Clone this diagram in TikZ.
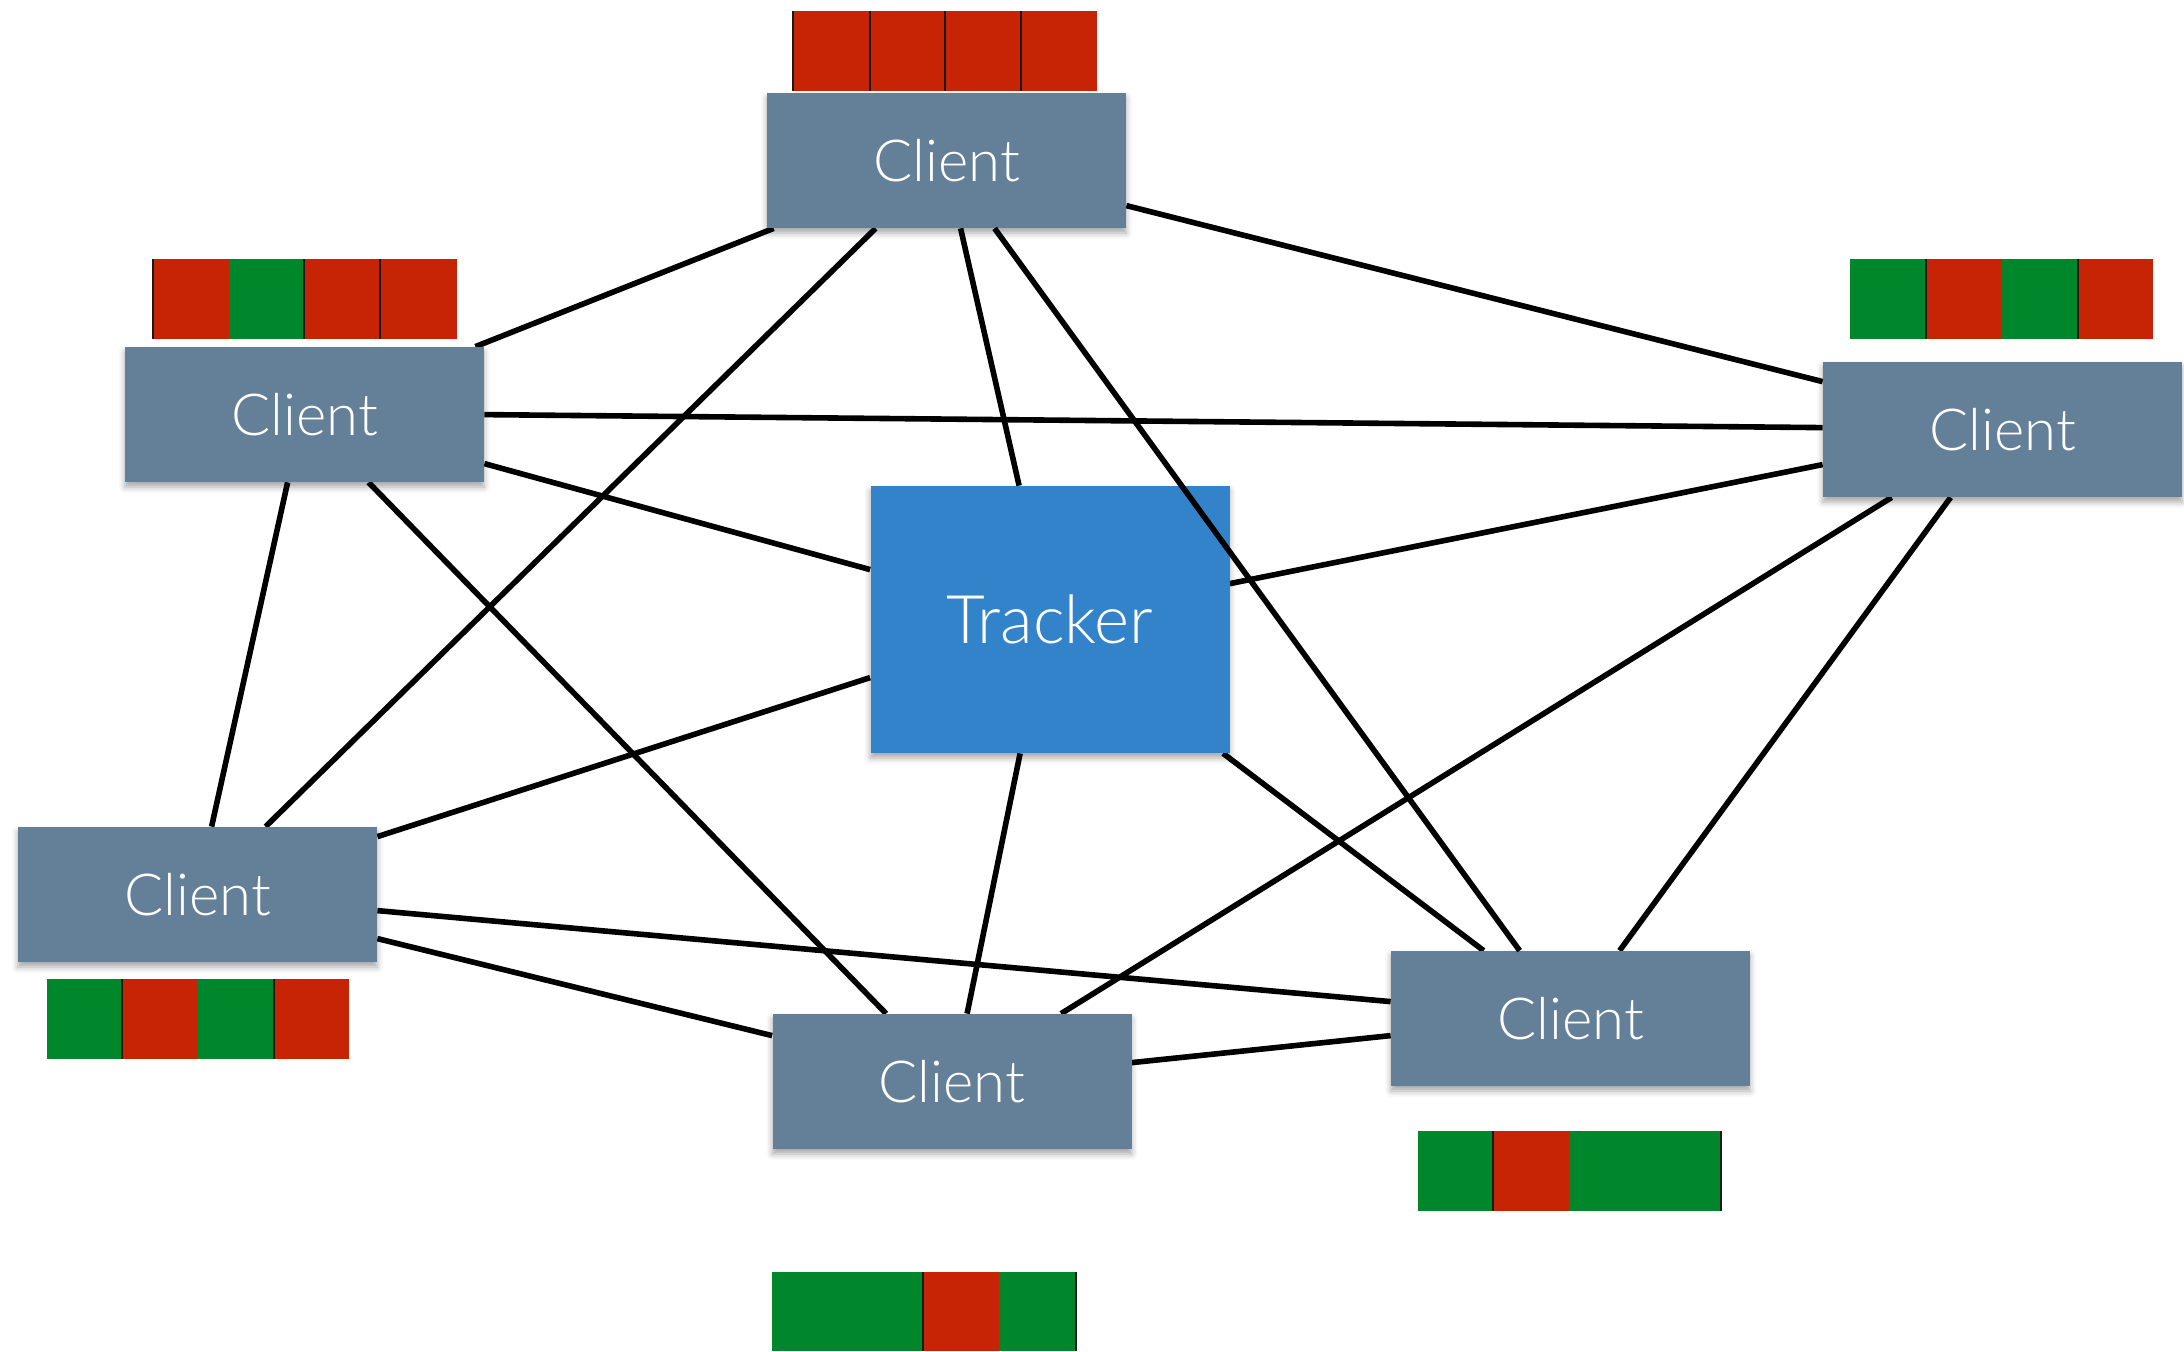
\documentclass[tikz,border=0pt]{standalone}
\usepackage{fontspec}
\setmainfont{Lato}[UprightFont={* Light}]
\usetikzlibrary{calc,backgrounds,shadows.blur}

\definecolor{clientblue}{RGB}{100,128,153}
\definecolor{trackerblue}{RGB}{51,131,203}
\definecolor{piecered}{RGB}{199,36,6}
\definecolor{piecegreen}{RGB}{0,135,43}

\tikzset{
  box/.style={rectangle, inner sep=0pt, text=white,
    minimum width=179.5pt, minimum height=67.5pt,
    blur shadow={shadow xshift=0pt, shadow yshift=-2.5pt,
      shadow blur radius=3pt, shadow opacity=35},
    font=\fontsize{29}{34}\selectfont},
  client/.style={box, fill=clientblue},
  tracker/.style={box, fill=trackerblue, minimum height=133.5pt,
    font=\fontsize{33.5}{40}\selectfont},
  link/.style={line width=2.8pt, black},
  redcell/.style={fill=piecered},
  greencell/.style={fill=piecegreen},
  divider/.style={line width=1.3pt, black!90},
}

\begin{document}
\begin{tikzpicture}[x=0.5pt, y=-0.5pt]
  \useasboundingbox (0,0) rectangle (2184,1351);

  % peers and tracker
  \node[client]  (T)  at (946.5,160.5)  {Client};
  \node[client]  (L)  at (304.5,414.5)  {Client};
  \node[client]  (R)  at (2002.5,429.5) {Client};
  \node[client]  (BL) at (197.5,894.5)  {Client};
  \node[client]  (BM) at (952,1081.5)   {Client};
  \node[client]  (BR) at (1570.5,1018.5) {Client};
  \node[tracker] (K)  at (1050,619.5)   {Tracker};

  % connections, kept beneath the boxes
  \begin{pgfonlayer}{background}
    \draw[link] ($(T.south west)+(7,0)$)   -- ($(L.north east)+(-9,0)$);
    \draw[link] ($(T.south west)+(109,0)$) -- ($(BL.north west)+(248,0)$);
    \draw[link] ($(T.south west)+(194,0)$) -- ($(K.north west)+(149,0)$);
    \draw[link] ($(T.north east)+(0,113)$) -- ($(R.north west)+(0,20)$);
    \draw[link] ($(L.north east)+(0,68)$)  -- ($(R.north west)+(0,66)$);
    \draw[link] ($(L.north east)+(0,117)$) -- ($(K.north west)+(0,84)$);
    \draw[link] ($(L.south west)+(163,0)$) -- ($(BL.north west)+(194,0)$);
    \draw[link] ($(L.south west)+(244,0)$) -- ($(BM.north west)+(114,0)$);
    \draw[link] ($(R.north west)+(0,103)$) -- ($(K.north east)+(0,98)$);
    \draw[link] ($(R.south west)+(69,0)$)  -- ($(BM.north west)+(289,0)$);
    \draw[link] ($(R.south west)+(128,0)$) -- ($(BR.north west)+(229,0)$);
    \draw[link] ($(K.north west)+(0,192)$) -- ($(BL.north east)+(0,10)$);
    \draw[link] ($(K.south west)+(150,0)$) -- ($(BM.north west)+(195,0)$);
    \draw[link] ($(K.south west)+(353,0)$) -- ($(BR.north west)+(93,0)$);
    \draw[link] ($(BL.north east)+(0,84)$) -- ($(BR.north west)+(0,51)$);
    \draw[link] ($(BL.north east)+(0,112)$) -- ($(BM.north west)+(0,22)$);
    \draw[link] ($(BM.north east)+(0,49)$) -- ($(BR.north west)+(0,85)$);
  \end{pgfonlayer}
  % this one runs across the tracker's corner, on top of it
  \draw[link] ($(T.south west)+(228,0)$) -- ($(BR.north west)+(129,0)$);

  % piece bars
  % top peer
  \fill[redcell] (792,11) rectangle (1097,91);
  \foreach \x in {793,870,945,1021} \draw[divider] (\x,11) -- (\x,91);
  % upper-left peer
  \fill[redcell]   (152,259) rectangle (229,339);
  \fill[greencell] (229,259) rectangle (304,339);
  \fill[redcell]   (304,259) rectangle (457,339);
  \foreach \x in {153,304,380} \draw[divider] (\x,259) -- (\x,339);
  % right peer
  \fill[greencell] (1850,259) rectangle (1926,339);
  \fill[redcell]   (1926,259) rectangle (2002,339);
  \fill[greencell] (2002,259) rectangle (2078,339);
  \fill[redcell]   (2078,259) rectangle (2153,339);
  \foreach \x in {1926,2078} \draw[divider] (\x,259) -- (\x,339);
  % lower-left peer
  \fill[greencell] (47,979) rectangle (122,1059);
  \fill[redcell]   (122,979) rectangle (198,1059);
  \fill[greencell] (198,979) rectangle (274,1059);
  \fill[redcell]   (274,979) rectangle (349,1059);
  \foreach \x in {122,274} \draw[divider] (\x,979) -- (\x,1059);
  % bottom peer
  \fill[greencell] (772,1272) rectangle (923,1351);
  \fill[redcell]   (923,1272) rectangle (999,1351);
  \fill[greencell] (999,1272) rectangle (1077,1351);
  \foreach \x in {923,1076} \draw[divider] (\x,1272) -- (\x,1351);
  % lower-right peer
  \fill[greencell] (1418,1131) rectangle (1493,1211);
  \fill[redcell]   (1493,1131) rectangle (1569,1211);
  \fill[greencell] (1569,1131) rectangle (1722,1211);
  \foreach \x in {1493,1721} \draw[divider] (\x,1131) -- (\x,1211);
\end{tikzpicture}
\end{document}
